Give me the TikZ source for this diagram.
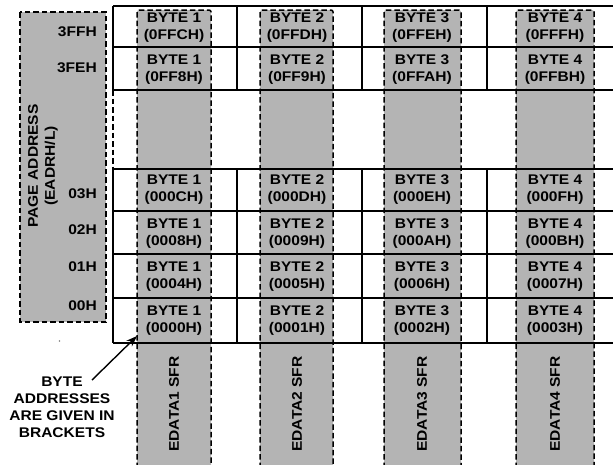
\documentclass[tikz,border=0pt]{standalone}
\usepackage{graphicx}
\usepackage{fontspec}
\newfontfamily\labfont{Liberation Sans Bold}
\newcommand\sx[1]{\scalebox{1.11}[1]{#1}}
\usetikzlibrary{arrows.meta}
\definecolor{cellgray}{RGB}{180,180,180}
\begin{document}
\begin{tikzpicture}[x=1pt,y=-1pt,
  txt/.style={font=\labfont\fontsize{14}{17}\selectfont, inner sep=0pt, align=center},
  rtxt/.style={txt, anchor=east},
  dashbox/.style={draw=black, line width=1.5pt, dash pattern=on 5.5pt off 3pt},
  gridline/.style={draw=black, line width=1.4pt},
  colfill/.style={fill=cellgray},
]
\useasboundingbox (0,0) rectangle (613,464);
% page address box
\path[colfill, dashbox] (20,12) rectangle (106,322);
% gray columns (fill)
\foreach \xa/\xb in {137/211, 260/333, 384/461, 516/594}{
  \fill[cellgray] (\xa,466) -- (\xa,12) [rounded corners=2pt] -- (\xa,10) -- (\xb,10) [sharp corners] -- (\xb,466) -- cycle;
}
% grid
\foreach \y in {6,47,90,169,211,254,298,343}{
  \draw[gridline] (113,\y) -- (613,\y);
}
\foreach \x in {113,237,362,487}{
  \draw[gridline] (\x,6) -- (\x,90);
  \draw[gridline] (\x,169) -- (\x,343);
}
\draw[line width=1.5pt, dash pattern=on 5.5pt off 3pt] (113,90) -- (113,169);
% gray columns (dashed border)
\foreach \xa/\xb in {137/211, 260/333, 384/461, 516/594}{
  \draw[dashbox, rounded corners=2pt] (\xa,468) -- (\xa,10) -- (\xb,10) -- (\xb,468);
}
% page labels
\node[rtxt] (p3ff) at (97,32) {\sx{3FFH}};
\node[rtxt] (p3fe) at (97,68) {\sx{3FEH}};
\node[rtxt] (p03) at (97,194) {\sx{03H}};
\node[rtxt] (p02) at (97,230) {\sx{02H}};
\node[rtxt] (p01) at (97,267) {\sx{01H}};
\node[rtxt] (p00) at (97,306) {\sx{00H}};
\node[txt, rotate=90] (pagead) at (43,166) {\sx{PAGE ADDRESS}\\\sx{(EADRH/L)}};
% cells
\foreach \r/\y/\a/\b/\c/\d in {
  a/27.5/0FFCH/0FFDH/0FFEH/0FFFH,
  b/69.5/0FF8H/0FF9H/0FFAH/0FFBH,
  c/189.5/000CH/000DH/000EH/000FH,
  d/233.5/0008H/0009H/000AH/000BH,
  e/276.5/0004H/0005H/0006H/0007H,
  f/320.5/0000H/0001H/0002H/0003H}{
  \node[txt] (\r1) at (174,\y) {\sx{BYTE 1}\\\sx{(\a)}};
  \node[txt] (\r2) at (297,\y) {\sx{BYTE 2}\\\sx{(\b)}};
  \node[txt] (\r3) at (422,\y) {\sx{BYTE 3}\\\sx{(\c)}};
  \node[txt] (\r4) at (555,\y) {\sx{BYTE 4}\\\sx{(\d)}};
}
% SFR labels
\node[txt, rotate=90] (sfr1) at (174,404) {\sx{EDATA1 SFR}};
\node[txt, rotate=90] (sfr2) at (297,404) {\sx{EDATA2 SFR}};
\node[txt, rotate=90] (sfr3) at (422,404) {\sx{EDATA3 SFR}};
\node[txt, rotate=90] (sfr4) at (555,404) {\sx{EDATA4 SFR}};
% annotation
\node[txt] (note) at (62,407.5) {\sx{BYTE}\\\sx{ADDRESSES}\\\sx{ARE GIVEN IN}\\\sx{BRACKETS}};
\coordinate (tail) at (92,380);
\coordinate (tip) at (137,336);
\draw[line width=1.4pt, -{Stealth[length=11pt,width=8pt]}] (tail) -- (tip);
\fill[gray] (59.5,341) circle (0.8pt);
\end{tikzpicture}
\end{document}
